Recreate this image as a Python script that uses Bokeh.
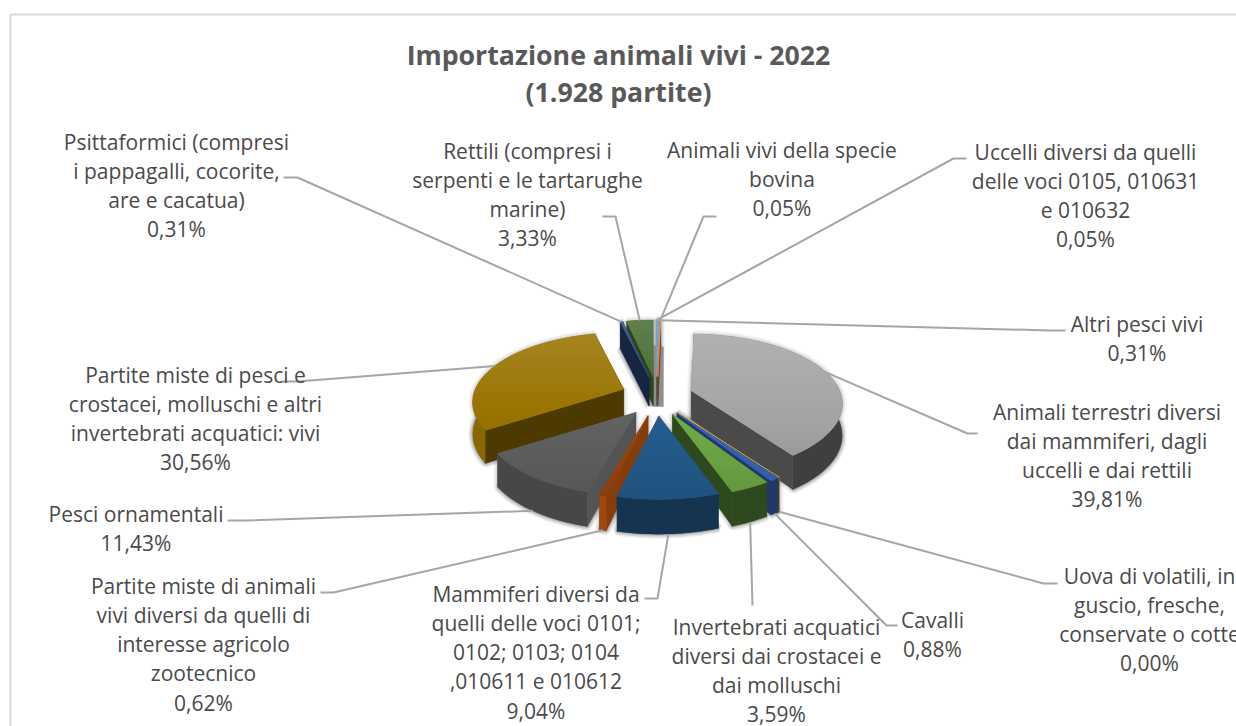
import numpy as np
from bokeh.plotting import figure
from bokeh.models import Range1d, ColumnDataSource
from bokeh.core.properties import value
from bokeh.embed import file_html
from bokeh.resources import INLINE

# ---------- data (clockwise from twelve o'clock) ----------
names = [
    "Altri pesci vivi",
    "Animali vivi della specie bovina",
    "Animali terrestri diversi dai mammiferi, dagli uccelli e dai rettili",
    "Uova di volatili, in guscio, fresche, conservate o cotte",
    "Cavalli",
    "Invertebrati acquatici diversi dai crostacei e dai molluschi",
    "Mammiferi diversi da quelli delle voci 0101; 0102; 0103; 0104 ,010611 e 010612",
    "Partite miste di animali vivi diversi da quelli di interesse agricolo zootecnico",
    "Pesci ornamentali",
    "Partite miste di pesci e crostacei, molluschi e altri invertebrati acquatici: vivi",
    "Psittaformici (compresi i pappagalli, cocorite, are e cacatua)",
    "Rettili (compresi i serpenti e le tartarughe marine)",
    "Uccelli diversi da quelli delle voci 0105, 010631 e 010632",
]
shares = [0.31, 0.05, 39.81, 0.00, 0.88, 3.59, 9.04, 0.62, 11.43, 30.56, 0.31, 3.33, 0.05]
colors = ["#5B9BD5", "#ED7D31", "#A5A5A5", "#FFC000", "#3A68BE", "#70AD47", "#255E91",
          "#9E480E", "#636363", "#997300", "#264478", "#43682B", "#7CAFDD"]
outer_shade = [.5, .5, .38, .6, .55, .42, .55, 1.0, .72, .9, .55, .65, .5]
cut_shade = [.5, .5, .45, .6, .55, .42, .55, .85, .85, .5, .55, .65, .5]

title_lines = ["Importazione animali vivi - 2022", "(1.928 partite)"]

# ---------- layout: name index, label lines, centre x, first line y, leader elbow, anchor depth ----------
labels = [
    (0, ["Altri pesci vivi"], 1136.5, 323, [(1065, 330), (1050, 330)], 0.0),
    (1, ["Animali vivi della specie", "bovina"], 781.5, 149, [(716, 216), (703, 216)], 0.0),
    (2, ["Animali terrestri diversi", "dai mammiferi, dagli", "uccelli e dai rettili"], 1106.5, 411, [(977, 433), (967, 433)], 0.0),
    (3, ["Uova di volatili, in", "guscio, fresche,", "conservate o cotte"], 1149, 575, [(1057, 583), (1043, 583)], 1.0),
    (4, ["Cavalli"], 932, 619, [(897, 625), (886, 625)], 1.0),
    (5, ["Invertebrati acquatici", "diversi dai crostacei e", "dai molluschi"], 776, 626, [(752, 605)], 1.0),
    (6, ["Mammiferi diversi da", "quelli delle voci 0101;", "0102; 0103; 0104", ",010611 e 010612"], 535.5, 593, [(644, 598), (657, 598)], 1.0),
    (7, ["Partite miste di animali", "vivi diversi da quelli di", "interesse agricolo", "zootecnico"], 203, 585, [(320, 592), (333, 592)], 1.0),
    (8, ["Pesci ornamentali"], 135.5, 513, [(227, 520), (245, 520)], 1.0),
    (9, ["Partite miste di pesci e", "crostacei, molluschi e altri", "invertebrati acquatici: vivi"], 195, 374, [(282, 381), (297, 381)], 0.0),
    (10, ["Psittaformici (compresi", "i pappagalli, cocorite,", "are e cacatua)"], 176, 141, [(283, 177), (297, 177)], 0.0),
    (11, ["Rettili (compresi i", "serpenti e le tartarughe", "marine)"], 527, 150, [(602, 216), (615, 216)], 0.0),
    (12, ["Uccelli diversi da quelli", "delle voci 0105, 010631", "e 010632"], 1085, 151, [(966, 158), (953, 158)], 0.0),
]
LINE_STEP = 29.3
# pie projection, page pixels
CX, CY, EX, EY = 656.5, 396, 36, 20
AX, AY, K = 148, 67, 0.19


def rim(a, t):
    s = 1 / (1 + K * np.cos(t))
    return a[0] + AX * np.sin(t) * s, a[1] - AY * np.cos(t) * s


def depth(t):
    return 31 - 4 * np.cos(t)


def hexmix(c, target, f):
    r = [int(c[i:i + 2], 16) for i in (1, 3, 5)]
    return "#%02X%02X%02X" % tuple(int(round(v + (target - v) * f)) for v in r)


def shade(c, f):
    return hexmix(c, 0, 1 - f)


def clip(poly, limit, keep_below):
    res = []
    n = len(poly)
    for i in range(n):
        p, q = poly[i], poly[(i + 1) % n]
        pin = p[1] >= limit if keep_below else p[1] <= limit
        qin = q[1] >= limit if keep_below else q[1] <= limit
        if pin:
            res.append(p)
        if pin != qin:
            f = (limit - p[1]) / (q[1] - p[1])
            res.append((p[0] + f * (q[0] - p[0]), limit))
    return res


edges = np.cumsum([0] + shares) / sum(shares) * 2 * np.pi
mids = (edges[:-1] + edges[1:]) / 2
apexes = [(CX + EX * np.sin(m), CY - EY * np.cos(m)) for m in mids]

shadow, layers = [], []
for i in np.argsort(-np.cos(mids)):
    a = apexes[i]
    t1, t2 = edges[i], edges[i + 1]
    ts = np.linspace(t1, t2, max(3, int((t2 - t1) * 40)))
    arc = [rim(a, t) for t in ts]
    bot = [(x, y + depth(t)) for (x, y), t in zip(arc, ts)]
    d0 = 29
    a_b = (a[0], a[1] + d0)
    walls = [
        (arc + bot[::-1], shade(colors[i], outer_shade[i])),
        ([a, arc[0], bot[0], a_b], shade(colors[i], cut_shade[i])),
        ([a, arc[-1], bot[-1], a_b], shade(colors[i], cut_shade[i])),
    ]
    walls.sort(key=lambda w: np.mean([p[1] for p in w[0]]))
    shadow.append([a_b] + bot)
    shadow.append([a] + arc + bot[::-1] + [a_b])
    polys = []
    for poly, col in walls:
        polys.append((poly, col, 0.4))
    top = [a] + arc
    ymin, ymax = min(p[1] for p in top), max(p[1] for p in top)
    y = np.floor(ymin)
    while y < ymax:
        band = clip(clip(top, y, True), y + 5, False)
        if len(band) >= 3:
            t = (y + 2.5 - 323) / 180
            c = hexmix(colors[i], 255, (0.5 - t) * 0.3) if t < .5 else hexmix(colors[i], 0, (t - .5) * 0.28)
            polys.append((band, c, 1.0))
        y += 5
    layers.extend(polys)

p = figure(width=1236, height=726, x_range=Range1d(0, 1236), y_range=Range1d(726, 0),
           toolbar_location=None, output_backend="svg", min_border=0, outline_line_color=None,
           background_fill_color="white", border_fill_color="white")
p.axis.visible = False
p.grid.visible = False

# chart frame
p.line([10, 10, 1236], [726, 14, 14], line_color="#D9D9D9", line_width=2)

# soft shadow
for w, al in [(9, .035), (6, .05), (3, .07)]:
    p.patches([[q[0] for q in s] for s in shadow], [[q[1] for q in s] for s in shadow],
              fill_color="#000000", fill_alpha=al, line_color="#000000", line_alpha=al, line_width=w)

# grey rear block behind the hair-thin slices
ba = apexes[0]
bx = [ba[0] - 4, ba[0] + 6, ba[0] + 6, ba[0] - 4]
by = [rim(ba, 0)[1] + 27, rim(ba, 0)[1] + 27, ba[1] + 30, ba[1] + 30]
p.patch(bx, by, fill_color="#8E8E8E", line_color="#8E8E8E", line_width=0.5)

src = ColumnDataSource(dict(
    xs=[[q[0] for q in l[0]] for l in layers],
    ys=[[q[1] for q in l[0]] for l in layers],
    c=[l[1] for l in layers],
    w=[l[2] for l in layers],
))
p.patches("xs", "ys", source=src, fill_color="c", line_color="c", line_width="w")

# leaders
lx, ly = [], []
for idx, lines, cx, cy, elbow, dfrac in labels:
    x, y = rim(apexes[idx], mids[idx])
    y += dfrac * depth(mids[idx])
    pts = list(elbow) + [(x, y)]
    lx.append([q[0] for q in pts])
    ly.append([q[1] for q in pts])
p.multi_line(lx, ly, line_color="#A6A6A6", line_width=2)

# labels
tx, ty, tt = [], [], []
for idx, lines, cx, cy, elbow, dfrac in labels:
    rows = lines + [f"{shares[idx]:.2f}".replace(".", ",") + "%"]
    for j, r in enumerate(rows):
        tx.append(cx)
        ty.append(cy + j * LINE_STEP)
        tt.append(r)
p.text(tx, ty, text=tt, text_font=value("Open Sans"), text_font_size="21px", text_color="#4A4A4A",
       text_align="center", text_baseline="middle")
p.text([618, 618], [54, 91], text=title_lines, text_font=value("Open Sans"), text_font_size="26.7px",
       text_font_style="bold", text_color="#595959", text_align="center", text_baseline="middle")

open("out.html", "w").write(file_html(p, INLINE))
